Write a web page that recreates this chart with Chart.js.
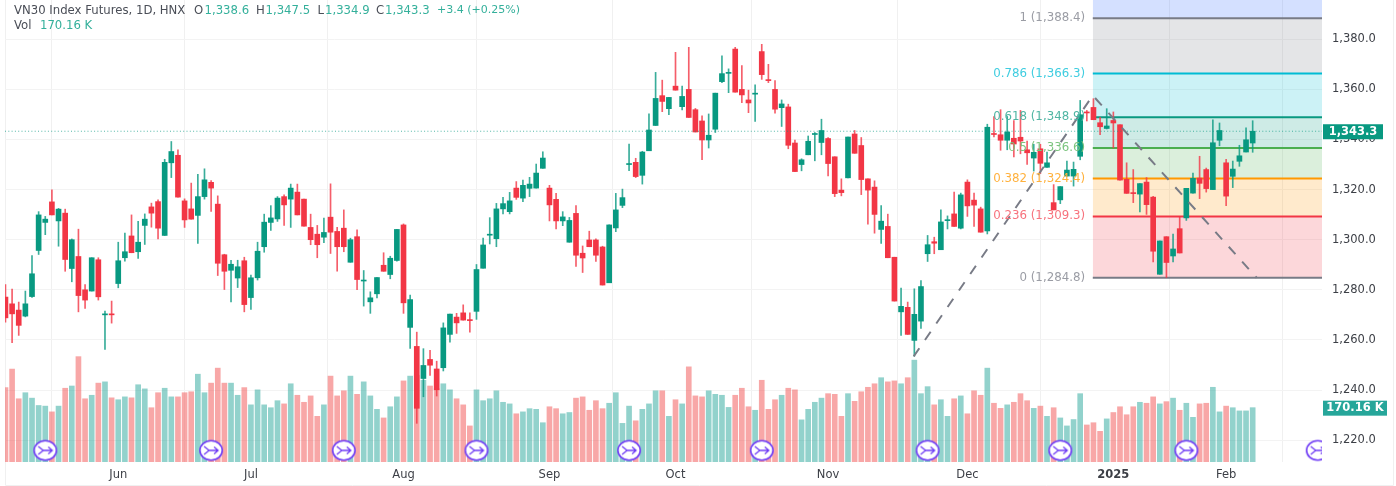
<!DOCTYPE html>
<html lang="en">
<head>
<meta charset="utf-8">
<title>VN30 Index Futures</title>
<script src="https://cdn.jsdelivr.net/npm/chart.js"></script>
<style>
  html, body { margin: 0; padding: 0; background: #fff; }
  canvas { display: block; }
</style>
</head>
<body>
<canvas id="myChart" width="1396" height="486"></canvas>
<script>
// daily candles (index = trading day slot)
const opens = [
  1277.1,1274.4,1271.9,1269.5,1277.3,1295.7,1306.9,1315.1,1307.5,1310.6,
  1288.5,1293.3,1280,1279.5,1292,1270,1270.4,1282.5,1292.8,1301.5,
  1295.2,1305.7,1313.1,1315.2,1301.7,1330.7,1333.7,1315.5,1312.3,1309.7,
  1317.2,1322.9,1314.2,1294,1287.8,1284.7,1291.6,1276.9,1284.8,1297.2,
  1306.9,1308.3,1317.2,1316.2,1319,1316.2,1304.9,1302.2,1301,1309,
  1303.3,1304.6,1291,1301.2,1283.5,1275.2,1278.4,1289.8,1286.1,1291.7,
  1305.9,1265,1257.4,1244.6,1252.2,1248.4,1248.9,1262.2,1269.1,1270.8,
  1268,1271.4,1288.6,1301.8,1300.4,1312.3,1311.2,1320.6,1316.6,1320.5,
  1320.6,1328.5,1320.6,1316.1,1307.5,1299,1310.5,1294.6,1299.9,1299.9,
  1297.1,1282.8,1304.7,1313.7,1330,1330.9,1325.7,1335.5,1345.6,1357.5,
  1352.3,1361.3,1353.1,1360,1351.9,1347.4,1339.8,1344.1,1363.1,1366.4,
  1376.1,1360,1355.8,1358.1,1375.1,1363.9,1360,1352.7,1353,1338.6,
  1330,1333.9,1342,1338.8,1340.4,1333.1,1319.8,1324.7,1342.2,1337.6,
  1324.3,1321,1304.1,1305.3,1293,1271.2,1273,1259.8,1267.5,1294.4,
  1299.2,1296,1307.6,1310.3,1304.6,1323,1315.8,1312.3,1303.5,1342.4,
  1341.9,1339.7,1340.5,1340.9,1335.9,1332.6,1336.3,1328.9,1314.8,1315.9,
  1325.4,1325.4,1333.3,1351,1352.8,1346.7,1344.4,1347.6,1345.9,1324.1,
  1318.8,1318.2,1323,1317,1286.2,1301.2,1293.5,1304.4,1308.7,1318.6,
  1324.6,1328,1320,1339.7,1330.7,1325.3,1331.3,1335,1338.6
];
const closes = [
  1268.8,1270.4,1265.8,1274.4,1286.4,1309.9,1308.2,1309.9,1312.2,1292.1,
  1300,1277.7,1275.9,1292.8,1277.2,1270.2,1270,1291.6,1295.2,1294.8,
  1299,1308.2,1310.6,1304.6,1330.9,1335.2,1317,1307.9,1308.2,1317.2,
  1323.9,1320.6,1290.6,1287.4,1290.2,1289.2,1274.1,1284.8,1295.4,1307,
  1308.7,1316.6,1313.9,1320.6,1309.9,1305.4,1300,1298,1302.9,1303,
  1297.2,1297.2,1300,1284.1,1283.8,1276.8,1284.9,1287.4,1292.6,1304.1,
  1274.8,1276.1,1232.7,1249.8,1249.9,1240.1,1264.8,1270.3,1266.8,1267.9,
  1267.7,1288.1,1297.9,1302.1,1312.3,1314.4,1315.5,1316.9,1321.7,1322.2,
  1326.6,1332.6,1313.9,1307.5,1309.1,1307.7,1293.8,1292.7,1297.2,1293.8,
  1281.9,1305.9,1311.9,1316.8,1330.3,1325.2,1335,1343.8,1356.4,1355.2,
  1356.8,1359.7,1357.2,1348.8,1343,1339.8,1341.7,1358.5,1366.3,1366.7,
  1358.9,1357.8,1354.6,1358.4,1365.9,1363.5,1352.1,1354.2,1337.7,1327.2,
  1331.9,1339.3,1342.3,1343.6,1330.4,1318.4,1318.8,1341,1334.5,1324,
  1319.8,1310.1,1307.4,1292.8,1275.5,1273.4,1262.2,1270.2,1281.3,1298,
  1298.6,1307.1,1307.9,1305.3,1317.9,1313.5,1313.8,1303,1344.9,1342,
  1339.7,1343,1338.2,1339.4,1334.7,1334.9,1330.5,1330.7,1311.9,1321.2,
  1327.8,1328.1,1349.9,1350.6,1347.9,1345.1,1345.4,1346.6,1323.8,1318.5,
  1318.4,1322.4,1314,1295.4,1299.5,1290.9,1296.3,1294.7,1320.5,1324.5,
  1322.5,1320.4,1338.7,1343.6,1317.4,1328.2,1333.5,1339.9,1343.3
];
const highs = [
  1282.1,1280.3,1275.1,1279.5,1293.7,1311.2,1309.3,1319.9,1312.5,1312.2,
  1300.3,1304.2,1282.1,1292.8,1292.8,1271.5,1275.5,1299,1302.6,1309.9,
  1307.3,1310.3,1314.6,1315.9,1332.1,1339.2,1335.9,1316.3,1322.6,1326.1,
  1328.3,1323.6,1317.5,1294.2,1291.8,1291.8,1293,1285.9,1299,1310.2,
  1313.6,1317.2,1317.9,1322.2,1322.2,1316.2,1310.2,1305.7,1308.6,1322.3,
  1304.9,1311.9,1300.6,1303.9,1287.7,1279.2,1284.9,1294.8,1293.4,1304.1,
  1306.3,1277.9,1263.1,1256.5,1255.8,1251.5,1266.8,1270.3,1270.6,1274,
  1270.8,1290.1,1300.6,1308.8,1314.5,1316.9,1318.9,1323.2,1323.8,1324.9,
  1330.2,1335.1,1321.7,1318.5,1311.2,1308.9,1313.6,1297.5,1303.4,1300.3,
  1297.4,1305.9,1318.5,1320.2,1338.2,1332.5,1335.3,1350.2,1366.8,1363.7,
  1356.8,1374.8,1361.3,1376.8,1352.4,1349.5,1350.2,1358.5,1373.4,1368.2,
  1376.8,1369.5,1359.7,1361.8,1378,1370,1363.5,1355.8,1354.1,1339.8,
  1332.3,1341.4,1342.8,1348.1,1340.8,1333.1,1324.3,1341,1343.6,1340.8,
  1324.3,1323.5,1313.6,1310.2,1293,1280.7,1275.1,1280.4,1283.7,1301.7,
  1301,1311.9,1309.5,1319,1318.6,1323.9,1318.6,1313,1346.1,1349.2,
  1351.9,1349.2,1347.6,1351.6,1339.4,1338.1,1338.1,1335,1322,1321.2,
  1331.4,1331,1355.6,1351.6,1356.3,1348.9,1352.3,1351,1345.9,1330.7,
  1328,1322.4,1324.8,1317.3,1299.5,1301.2,1302.2,1309.1,1320.5,1326.6,
  1333.3,1328.6,1347.9,1346.6,1332.1,1331.4,1337.7,1344.7,1347.5
];
const lows = [
  1267.1,1258.9,1261.8,1269.2,1277,1294.1,1302,1309.9,1297.4,1287.4,
  1283.2,1271.2,1272.6,1279.5,1275.9,1256.2,1266.7,1280.8,1291.4,1294.8,
  1292.5,1298.1,1305,1300.3,1301.7,1324.8,1317,1304.9,1308.2,1298.5,
  1316.2,1311.3,1285.7,1280.1,1275.2,1280.9,1271.2,1272.2,1283.9,1295,
  1303.7,1307.3,1305.7,1304.9,1309.9,1305.4,1298,1292.8,1298.8,1294.5,
  1287.4,1295.2,1291,1280.1,1273.5,1270.6,1276.8,1287.4,1284.4,1291.4,
  1270.6,1256.6,1226.7,1237.3,1245.8,1237.6,1247.6,1259.1,1262.6,1267.9,
  1263.1,1268.2,1288.6,1298.3,1297.2,1310.3,1310.3,1316.1,1315.2,1317.2,
  1320.6,1328.5,1307.5,1304.3,1305.6,1299,1289.3,1286.9,1297.2,1291.3,
  1281.9,1282.8,1303.2,1312.8,1327.6,1324.8,1322.2,1335.5,1345.6,1351.1,
  1349.9,1359.7,1351.8,1348.8,1343,1331.9,1336.6,1342.8,1362.7,1358.7,
  1358.9,1354.7,1350.7,1347.2,1364,1362.7,1350.5,1345.2,1336.3,1327.2,
  1327.5,1333.9,1331.5,1333.9,1325.5,1317.2,1317.5,1324.7,1334.5,1318,
  1306.2,1302.6,1298.5,1292.8,1275.5,1261.8,1262.2,1253.5,1264.6,1291.3,
  1294.4,1296,1304.3,1305.3,1304.3,1309.3,1305.3,1303,1302.3,1341,
  1335.7,1335.9,1333,1334.3,1330.1,1327.4,1326.4,1328.9,1311.9,1314.4,
  1325.4,1321.4,1331.9,1347.4,1347.9,1341.9,1344.2,1336.6,1323.8,1318.5,
  1314.8,1311.1,1310.1,1291.1,1286.2,1284.9,1291.1,1294.7,1307.7,1318.6,
  1316.4,1319,1320,1337.5,1313.6,1320.8,1329.3,1335,1334.9
];
// volume in thousands
const volumes = [
  233,291,198,217,200,177,175,157,175,231,
  238,330,198,209,247,251,201,195,204,201,
  242,229,170,217,231,204,204,217,220,275,
  217,247,294,247,247,209,233,179,226,179,
  170,192,182,245,209,187,207,143,179,269,
  207,223,269,212,251,207,165,138,173,204,
  254,269,271,256,238,230,245,226,198,179,
  113,226,192,198,223,187,182,151,157,167,
  165,123,173,167,151,155,200,204,162,192,
  167,184,217,121,175,129,165,182,223,223,
  143,195,182,298,207,204,223,212,209,171,
  209,231,173,162,256,165,195,209,231,226,
  132,165,187,200,214,212,143,214,190,220,
  234,245,264,251,254,245,264,319,214,236,
  179,195,143,198,207,151,223,209,294,184,
  168,179,187,214,192,168,175,143,170,138,
  113,133,214,116,123,96,135,155,173,148,
  173,187,184,204,182,189,200,162,184,140,
  182,184,234,157,175,170,160,160,170.16
];

// x axis
const monthTicks = [17, 37, 60, 82, 101, 124, 145, 167, 184];
const monthLabels = ['Jun', 'Jul', 'Aug', 'Sep', 'Oct', 'Nov', 'Dec', '2025', 'Feb'];
const priceTicks = [1220, 1240, 1260, 1280, 1300, 1320, 1340, 1360, 1380];

// fib retracement
const fibRatios = ['0', '0.236', '0.382', '0.5', '0.618', '0.786', '1', '1.618'];
const fibPrices = [1284.8, 1309.3, 1324.4, 1336.6, 1348.9, 1366.3, 1388.4, 1452.4];
const fibLineColors = ['#787b86', '#f23645', '#ff9800', '#4caf50', '#089981', '#00bcd4', '#787b86', '#2962ff'];
const fibTextColors = ['#9a9ca4', '#f7727d', '#ffb13d', '#7cc47f', '#4fb5a3', '#3fcde0', '#9a9ca4', '#2962ff'];
const fibBandColors = [null, 'rgba(242,54,69,0.2)', 'rgba(255,152,0,0.2)', 'rgba(76,175,80,0.2)', 'rgba(8,153,129,0.2)', 'rgba(0,188,212,0.2)', 'rgba(120,123,134,0.2)', 'rgba(41,98,255,0.2)'];
const fibStart = 163.9;

// dashed trend line through the three fib anchors
const trendX = [136.9, 163.9, 188.6];
const trendY = [1253.4, 1357.6, 1284.8];

// dividend/event markers along the bottom
const eventSlots = [6, 31, 51, 71, 94, 114, 139, 159, 178, 197.8];
const eventLevel = 1215.9;

const lastClose = closes[closes.length - 1];
const lastVolume = volumes[volumes.length - 1];
const XMIN = -0.07, XMAX = 198.45;
const UP = '#089981', DOWN = '#f23645';
const FONT = '"DejaVu Sans"';

const slots = opens.map((_, i) => i);
const isUp = slots.map(i => closes[i] >= opens[i]);
const bodyColors = isUp.map(u => u ? UP : DOWN);
const wickColors = isUp.map(u => u ? 'rgba(8,153,129,0.8)' : 'rgba(242,54,69,0.8)');
const volColors = isUp.map(u => u ? 'rgba(38,166,154,0.5)' : 'rgba(242,80,80,0.5)');

function fmt(v) {
  return v.toLocaleString('en-US', { minimumFractionDigits: 1, maximumFractionDigits: 1 });
}

function eventIcon() {
  const c = document.createElement('canvas');
  c.width = 28; c.height = 24;
  const g = c.getContext('2d');
  g.translate(14, 12);
  g.beginPath();
  g.ellipse(0, 0, 11.2, 9.8, 0, 0, Math.PI * 2);
  g.fillStyle = '#fff';
  g.fill();
  g.lineWidth = 1.6;
  g.strokeStyle = '#6f3cf5';
  g.stroke();
  g.lineWidth = 1.3;
  g.beginPath();
  g.moveTo(-7, -4); g.lineTo(-2, 0); g.lineTo(-7, 4);
  g.moveTo(-3, 0); g.lineTo(7, 0);
  g.moveTo(3, -3.5); g.lineTo(7, 0); g.lineTo(3, 3.5);
  g.stroke();
  return c;
}

const datasets = [];

datasets.push({
  type: 'bar', label: 'Vol', yAxisID: 'v', order: 20, grouped: false, barThickness: 5,
  data: slots.map(i => ({ x: i, y: volumes[i] })),
  backgroundColor: volColors
});

// one line per fib level, each filled down to the previous level
fibPrices.forEach((p, k) => {
  datasets.push({
    type: 'line', label: 'fib ' + fibRatios[k], yAxisID: 'y', order: 15,
    data: [{ x: fibStart, y: p }, { x: XMAX, y: p }],
    borderColor: fibLineColors[k], borderWidth: k === 7 ? 0 : 2,
    pointRadius: 0, tension: 0,
    fill: k === 0 ? false : '-1',
    backgroundColor: fibBandColors[k] || 'transparent'
  });
});

datasets.push({
  type: 'bar', label: 'Wick', yAxisID: 'y', order: 5, grouped: false, barThickness: 1,
  data: slots.map(i => ({ x: i, y: [lows[i], highs[i]] })),
  backgroundColor: wickColors
});
datasets.push({
  type: 'bar', label: 'Body', yAxisID: 'y', order: 4, grouped: false, barThickness: 5, minBarLength: 1,
  data: slots.map(i => ({ x: i, y: [opens[i], closes[i]] })),
  backgroundColor: bodyColors
});

datasets.push({
  type: 'line', label: 'Last', yAxisID: 'y', order: 3,
  data: [{ x: XMIN, y: lastClose }, { x: XMAX, y: lastClose }],
  borderColor: 'rgba(8,153,129,0.7)', borderWidth: 1, borderDash: [1, 2.3],
  pointRadius: 0
});
datasets.push({
  type: 'line', label: 'Trend', yAxisID: 'y', order: 2,
  data: trendX.map((x, i) => ({ x: x, y: trendY[i] })),
  borderColor: '#787b86', borderWidth: 2, borderDash: [10, 10],
  pointRadius: 0, tension: 0
});
datasets.push({
  type: 'line', label: 'Events', yAxisID: 'y', order: 1, showLine: false,
  data: eventSlots.map(x => ({ x: x, y: eventLevel })),
  pointStyle: eventIcon(), pointRadius: 10
});

const overlay = {
  id: 'overlay',
  beforeDraw(chart) {
    const ctx = chart.ctx;
    ctx.save();
    ctx.strokeStyle = '#f0f0f0';
    ctx.lineWidth = 1;
    ctx.beginPath();
    ctx.moveTo(5.5, 0); ctx.lineTo(5.5, 485.5); ctx.lineTo(1393.5, 485.5); ctx.lineTo(1393.5, 0);
    ctx.stroke();
    ctx.restore();
  },
  afterDraw(chart) {
    const ctx = chart.ctx;
    const y = chart.scales.y, v = chart.scales.v, area = chart.chartArea;
    ctx.save();
    ctx.textBaseline = 'middle';

    // fib labels, right aligned just left of the retracement box
    ctx.textAlign = 'right';
    ctx.font = '11.8px ' + FONT;
    fibPrices.forEach((p, k) => {
      if (k === 7) return;
      ctx.fillStyle = fibTextColors[k];
      ctx.fillText(fibRatios[k] + ' (' + fmt(p) + ')', 1085, y.getPixelForValue(p));
    });

    // price tag and volume tag on the axis
    const py = y.getPixelForValue(lastClose);
    ctx.fillStyle = UP;
    ctx.fillRect(area.right + 1, py - 7, 60, 15);
    ctx.fillStyle = '#fff';
    ctx.textAlign = 'center';
    ctx.font = 'bold 11.5px ' + FONT;
    ctx.fillText(fmt(lastClose), area.right + 31, py + 0.5);

    const vy = v.getPixelForValue(lastVolume);
    ctx.fillStyle = '#26a69a';
    ctx.fillRect(area.right + 1, vy - 7, 64, 15);
    ctx.fillStyle = '#fff';
    ctx.fillText(lastVolume.toFixed(2) + ' K', area.right + 33, vy + 0.5);

    // header
    ctx.textAlign = 'left';
    ctx.font = '11.7px ' + FONT;
    const dark = '#4a4e57', teal = '#34b09b';
    const parts = [
      ['VN30 Index Futures, 1D, HNX', dark, 14],
      ['O', dark, 194], ['1,338.6', teal, 204.5],
      ['H', dark, 256], ['1,347.5', teal, 265.5],
      ['L', dark, 317.5], ['1,334.9', teal, 325],
      ['C', dark, 376], ['1,343.3', teal, 385]
    ];
    parts.forEach(s => {
      ctx.fillStyle = s[1];
      ctx.fillText(s[0], s[2], 10.5);
    });
    ctx.font = '11px ' + FONT;
    ctx.fillStyle = teal;
    ctx.fillText('+3.4 (+0.25%)', 437, 10.5);
    ctx.font = '11.7px ' + FONT;
    ctx.fillStyle = dark;
    ctx.fillText('Vol', 14, 25.5);
    ctx.fillStyle = teal;
    ctx.fillText(lastVolume.toFixed(2) + ' K', 40, 25.5);
    ctx.restore();
  }
};

new Chart(document.getElementById('myChart'), {
  type: 'bar',
  data: { datasets: datasets },
  plugins: [overlay],
  options: {
    responsive: false,
    animation: false,
    events: [],
    layout: { autoPadding: false, padding: { left: 5, top: 0, right: 0, bottom: 0 } },
    plugins: { legend: { display: false }, tooltip: { enabled: false }, title: { display: false } },
    scales: {
      x: {
        type: 'linear', min: XMIN, max: XMAX, offset: false,
        grid: { color: '#f0f0f0', drawTicks: false },
        border: { display: false },
        afterBuildTicks(axis) { axis.ticks = monthTicks.map(t => ({ value: t })); },
        afterFit(axis) { axis.height = 24; axis.paddingLeft = 0; axis.paddingRight = 0; },
        ticks: {
          autoSkip: false, maxRotation: 0, padding: 6, color: '#3c3f46',
          font: ctx => ({ family: FONT, size: 11.5, weight: ctx.tick && ctx.tick.value === 167 ? 'bold' : 'normal' }),
          callback: v => monthLabels[monthTicks.indexOf(v)]
        }
      },
      y: {
        position: 'right', min: 1211.26, max: 1395.69,
        grid: { color: '#f3f3f3', drawTicks: false },
        border: { display: false },
        afterBuildTicks(axis) { axis.ticks = priceTicks.map(t => ({ value: t })); },
        afterFit(axis) { axis.width = 74; axis.paddingTop = 0; axis.paddingBottom = 0; },
        ticks: {
          padding: 10, color: '#3c3f46',
          font: { family: FONT, size: 11.5 },
          callback: v => fmt(v)
        }
      },
      v: { display: false, min: 0, max: 1447 }
    }
  }
});
</script>
</body>
</html>
